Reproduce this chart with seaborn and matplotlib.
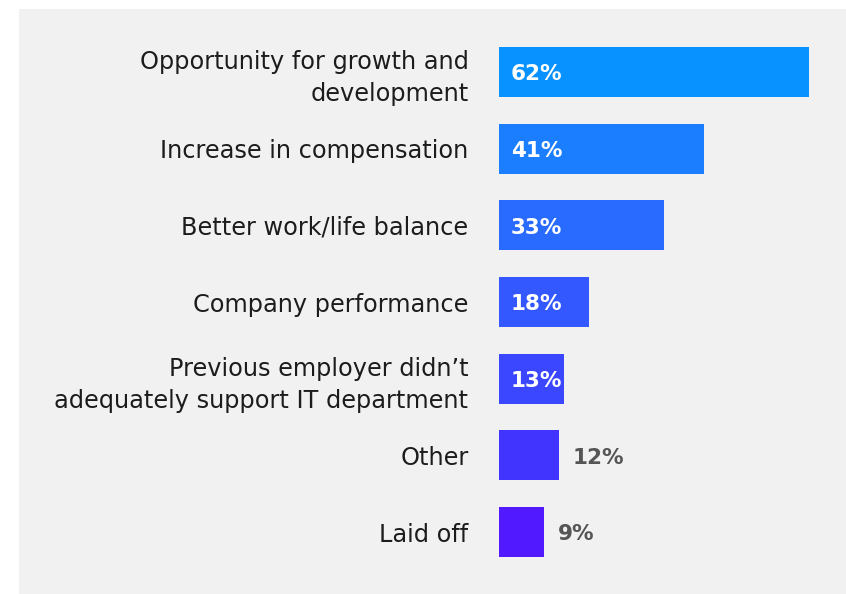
import matplotlib
matplotlib.use("Agg")
import matplotlib.pyplot as plt
from matplotlib.patches import Rectangle
import seaborn as sns
import pandas as pd

reasons = [
    "Opportunity for growth and\ndevelopment",
    "Increase in compensation",
    "Better work/life balance",
    "Company performance",
    "Previous employer didn\u2019t\nadequately support IT department",
    "Other",
    "Laid off",
]
shares = [62, 41, 33, 18, 13, 12, 9]
bar_colors = ["#0892ff", "#1a7eff", "#296bff", "#3358ff", "#3b47ff", "#4234ff", "#5119ff"]

df = pd.DataFrame({"reason": reasons, "share": shares})

sns.set_theme(style="white")
plt.rcParams["font.family"] = ["DejaVu Sans"]

W, H = 846, 594
fig = plt.figure(figsize=(W / 100, H / 100), dpi=100, facecolor="white")

# light gray card behind the chart
fig.patches.append(Rectangle((19 / W, 0), 1 - 19 / W, 1 - 9 / H,
                             transform=fig.transFigure, facecolor="#f1f1f1",
                             edgecolor="none", zorder=-10))

row = 76.67
top = 72 - row / 2
ax_h = row * 7
ax = fig.add_axes([499 / W, 1 - (top + ax_h) / H, 347 / W, ax_h / H])
ax.set_facecolor("none")

sns.barplot(data=df, x="share", y="reason", hue="reason", palette=bar_colors,
            legend=False, width=0.652, saturation=1, linewidth=0, ax=ax, orient="h")

ax.set_xlim(0, 347 / 5)
ax.set_ylim(6.5, -0.5)
ax.set_xlabel("")
ax.set_ylabel("")
ax.set_xticks([])
for s in ax.spines.values():
    s.set_visible(False)

ax.tick_params(axis="y", length=0, pad=22)
for lbl in ax.get_yticklabels():
    lbl.set_fontsize(17.3)
    lbl.set_color("#1c1c1c")
    lbl.set_linespacing(1.4)
    lbl.set_horizontalalignment("right")
    lbl.set_multialignment("right")

for i, v in enumerate(shares):
    if v >= 13:
        ax.text(2.4, i + 0.03, f"{v}%", color="white", fontsize=15.5,
                fontweight="semibold", va="center", ha="left")
    else:
        ax.text(v + 2.7, i + 0.03, f"{v}%", color="#555555", fontsize=15.5,
                fontweight="semibold", va="center", ha="left")

fig.savefig("out.png", dpi=100, facecolor="white")
